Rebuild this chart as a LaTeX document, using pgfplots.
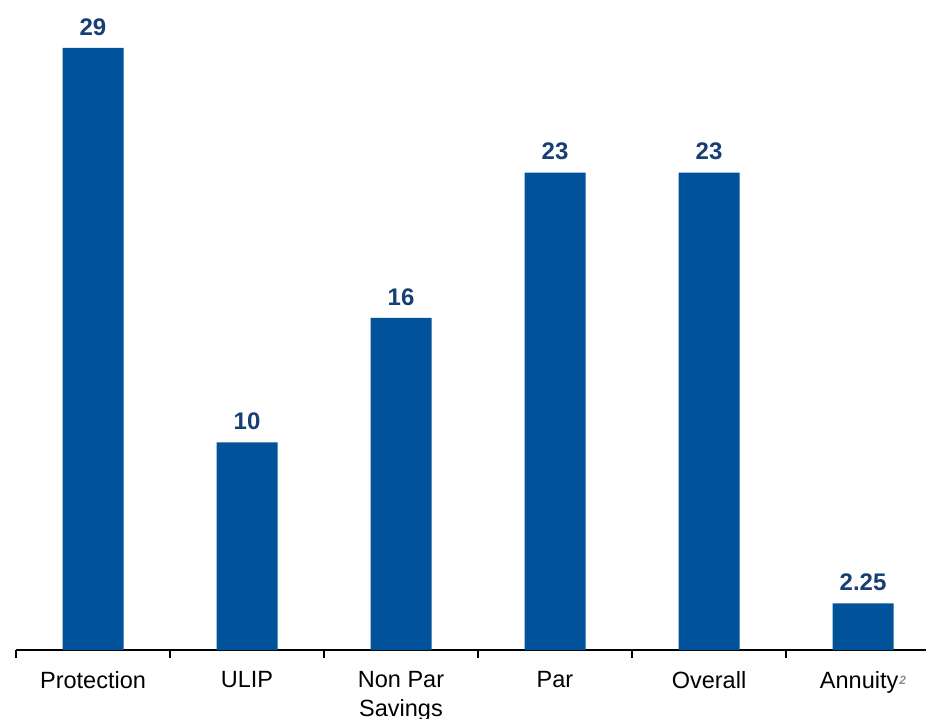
\documentclass[border=0pt]{standalone}
\usepackage{pgfplots}
\pgfplotsset{compat=1.18}
\usepackage{fontspec}
\setmainfont{Liberation Sans}
\definecolor{barblue}{RGB}{0,82,155}
\definecolor{lblnavy}{RGB}{24,62,115}
\definecolor{supgray}{RGB}{140,140,140}
\begin{document}
\begin{tikzpicture}[x=1pt,y=1pt]
\begin{axis}[
  at={(16pt,68pt)}, anchor=south west,
  scale only axis, width=910pt, height=650pt,
  xmin=-0.5, xmax=5.409, ymin=0, ymax=31.31,
  axis x line=bottom, axis y line=none,
  x axis line style={-, line width=1.3pt, black},
  xtick={0,1,2,3,4,5},
  xticklabels={Protection,ULIP,{Non Par\\Savings},Par,Overall,{Annuity\hspace{1pt}\raisebox{4pt}{\fontsize{12}{12}\selectfont\bfseries\itshape\color{supgray}2}}},
  major tick length=0pt,
  extra x ticks={-0.5,0.5,1.5,2.5,3.5,4.5},
  extra x tick labels={},
  extra x tick style={major tick length=8pt, tick style={line width=1.3pt, black}},
  tick align=outside,
  xticklabel style={font=\fontsize{23.5}{29}\selectfont, align=center, yshift=-18pt, text=black},
  ybar, bar width=61pt,
  point meta=explicit symbolic,
  nodes near coords,
  every node near coord/.append style={font=\fontsize{24}{27}\selectfont\bfseries, text=lblnavy, yshift=9pt},
  clip=false,
]
\addplot[fill=barblue, draw=none] coordinates {
  (0,29) [29]
  (1,10) [10]
  (2,16) [16]
  (3,23) [23]
  (4,23) [23]
  (5,2.25) [2.25]
};
\end{axis}
\pgfresetboundingbox
\path[use as bounding box] (0,0) rectangle (926pt,718pt);
\end{tikzpicture}
\end{document}
